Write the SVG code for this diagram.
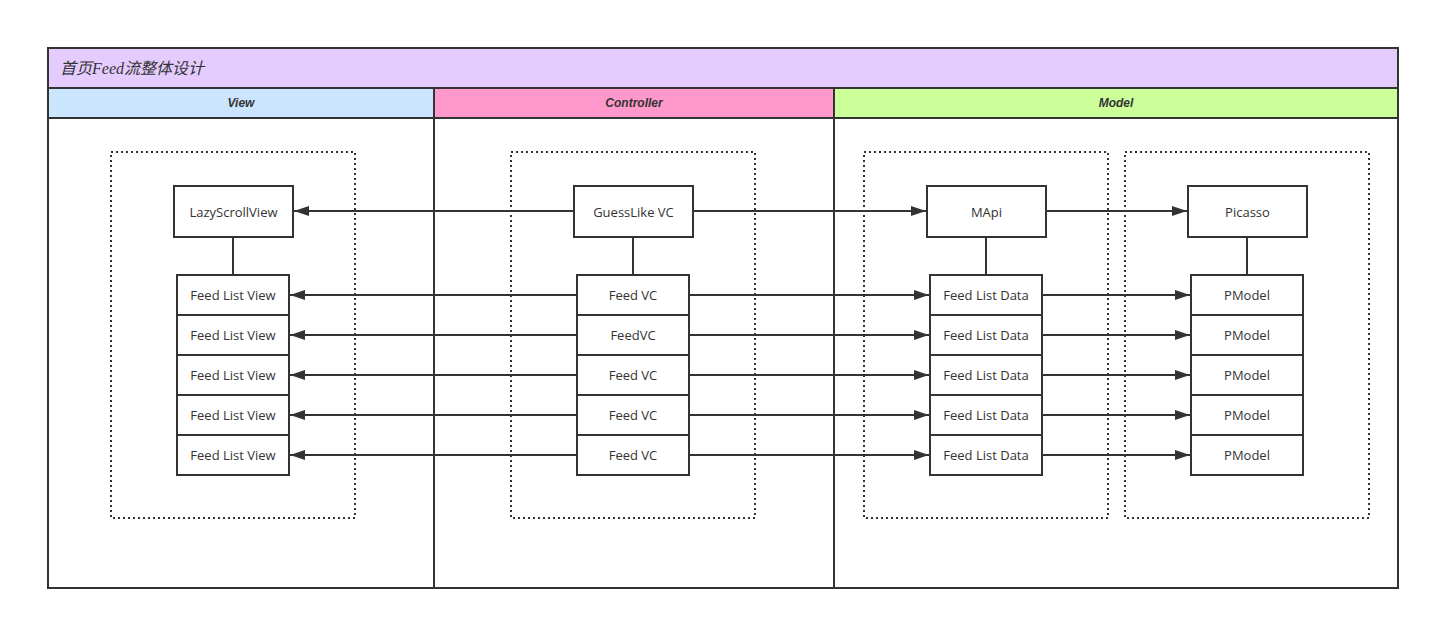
<svg xmlns="http://www.w3.org/2000/svg" width="1430" height="620" viewBox="0 0 1430 620">
<defs>
<marker id="arr" markerUnits="userSpaceOnUse" markerWidth="16" markerHeight="12" refX="15" refY="5" orient="auto"><path d="M0,0 L15,5 L0,10 Z" fill="#333"/></marker>
<style>
.frame{fill:none;stroke:#333;stroke-width:2}
.box{fill:#fff;stroke:#333;stroke-width:2}
.dot{fill:none;stroke:#333;stroke-width:2;stroke-dasharray:2 3}
.lbl{font-family:"Open Sans","Noto Sans","DejaVu Sans",sans-serif;font-size:13px;fill:#333;text-anchor:middle;dominant-baseline:central}
.lane{font-family:"Liberation Sans",Arial,sans-serif;font-size:12px;font-weight:bold;font-style:italic;fill:#333;text-anchor:middle;dominant-baseline:central}
.title{font-family:"Liberation Serif","Noto Sans CJK SC",serif;font-size:16px;font-style:italic;fill:#333;dominant-baseline:central}
.edge{fill:none;stroke:#333;stroke-width:2;marker-end:url(#arr)}
.link{fill:none;stroke:#333;stroke-width:2}
</style>
</defs>
<rect width="1430" height="620" fill="#fff"/>
<g id="pool">
<rect x="48" y="48" width="1350" height="40" fill="#E5CCFF"/>
<rect x="48" y="88" width="386" height="30" fill="#CCE5FF"/>
<rect x="434" y="88" width="400" height="30" fill="#FF99CC"/>
<rect x="834" y="88" width="564" height="30" fill="#CCFF99"/>
<rect class="frame" x="48" y="48" width="1350" height="540"/>
<line class="frame" x1="48" y1="88" x2="1398" y2="88"/>
<line class="frame" x1="48" y1="118" x2="1398" y2="118"/>
<line class="frame" x1="434" y1="88" x2="434" y2="588"/>
<line class="frame" x1="834" y1="88" x2="834" y2="588"/>
<text class="title" x="60" y="68">首页Feed流整体设计</text>
<text class="lane" x="241" y="103">View</text>
<text class="lane" x="634" y="103">Controller</text>
<text class="lane" x="1116" y="103">Model</text>
</g>
<g id="groups">
<rect class="dot" x="111" y="152" width="244" height="366"/>
<rect class="dot" x="511" y="152" width="244" height="366"/>
<rect class="dot" x="864" y="152" width="244" height="366"/>
<rect class="dot" x="1125" y="152" width="244" height="366"/>
</g>
<g id="connectors">
<line class="link" x1="233" y1="237" x2="233" y2="275"/>
<line class="link" x1="633" y1="237" x2="633" y2="275"/>
<line class="link" x1="986" y1="237" x2="986" y2="275"/>
<line class="link" x1="1247" y1="237" x2="1247" y2="275"/>
<line class="edge" x1="574" y1="211" x2="294" y2="211"/>
<line class="edge" x1="693" y1="211" x2="926" y2="211"/>
<line class="edge" x1="1046" y1="211" x2="1187" y2="211"/>
<line class="edge" x1="577" y1="295" x2="290" y2="295"/>
<line class="edge" x1="689" y1="295" x2="929" y2="295"/>
<line class="edge" x1="1042" y1="295" x2="1190" y2="295"/>
<line class="edge" x1="577" y1="335" x2="290" y2="335"/>
<line class="edge" x1="689" y1="335" x2="929" y2="335"/>
<line class="edge" x1="1042" y1="335" x2="1190" y2="335"/>
<line class="edge" x1="577" y1="375" x2="290" y2="375"/>
<line class="edge" x1="689" y1="375" x2="929" y2="375"/>
<line class="edge" x1="1042" y1="375" x2="1190" y2="375"/>
<line class="edge" x1="577" y1="415" x2="290" y2="415"/>
<line class="edge" x1="689" y1="415" x2="929" y2="415"/>
<line class="edge" x1="1042" y1="415" x2="1190" y2="415"/>
<line class="edge" x1="577" y1="455" x2="290" y2="455"/>
<line class="edge" x1="689" y1="455" x2="929" y2="455"/>
<line class="edge" x1="1042" y1="455" x2="1190" y2="455"/>
</g>
<g id="lazyScrollView"><rect class="box" x="174" y="186" width="119" height="51"/><text class="lbl" x="233.5" y="211.5">LazyScrollView</text></g>
<g id="guessLikeVC"><rect class="box" x="574" y="186" width="119" height="51"/><text class="lbl" x="633.5" y="211.5">GuessLike VC</text></g>
<g id="mapi"><rect class="box" x="927" y="186" width="119" height="51"/><text class="lbl" x="986.5" y="211.5">MApi</text></g>
<g id="picasso"><rect class="box" x="1188" y="186" width="119" height="51"/><text class="lbl" x="1247.5" y="211.5">Picasso</text></g>
<g id="view1"><rect class="box" x="177" y="275" width="112" height="40"/><text class="lbl" x="233" y="295">Feed List View</text></g>
<g id="view2"><rect class="box" x="177" y="315" width="112" height="40"/><text class="lbl" x="233" y="335">Feed List View</text></g>
<g id="view3"><rect class="box" x="177" y="355" width="112" height="40"/><text class="lbl" x="233" y="375">Feed List View</text></g>
<g id="view4"><rect class="box" x="177" y="395" width="112" height="40"/><text class="lbl" x="233" y="415">Feed List View</text></g>
<g id="view5"><rect class="box" x="177" y="435" width="112" height="40"/><text class="lbl" x="233" y="455">Feed List View</text></g>
<g id="vc1"><rect class="box" x="577" y="275" width="112" height="40"/><text class="lbl" x="633" y="295">Feed VC</text></g>
<g id="vc2"><rect class="box" x="577" y="315" width="112" height="40"/><text class="lbl" x="633" y="335">FeedVC</text></g>
<g id="vc3"><rect class="box" x="577" y="355" width="112" height="40"/><text class="lbl" x="633" y="375">Feed VC</text></g>
<g id="vc4"><rect class="box" x="577" y="395" width="112" height="40"/><text class="lbl" x="633" y="415">Feed VC</text></g>
<g id="vc5"><rect class="box" x="577" y="435" width="112" height="40"/><text class="lbl" x="633" y="455">Feed VC</text></g>
<g id="data1"><rect class="box" x="930" y="275" width="112" height="40"/><text class="lbl" x="986" y="295">Feed List Data</text></g>
<g id="data2"><rect class="box" x="930" y="315" width="112" height="40"/><text class="lbl" x="986" y="335">Feed List Data</text></g>
<g id="data3"><rect class="box" x="930" y="355" width="112" height="40"/><text class="lbl" x="986" y="375">Feed List Data</text></g>
<g id="data4"><rect class="box" x="930" y="395" width="112" height="40"/><text class="lbl" x="986" y="415">Feed List Data</text></g>
<g id="data5"><rect class="box" x="930" y="435" width="112" height="40"/><text class="lbl" x="986" y="455">Feed List Data</text></g>
<g id="pmodel1"><rect class="box" x="1191" y="275" width="112" height="40"/><text class="lbl" x="1247" y="295">PModel</text></g>
<g id="pmodel2"><rect class="box" x="1191" y="315" width="112" height="40"/><text class="lbl" x="1247" y="335">PModel</text></g>
<g id="pmodel3"><rect class="box" x="1191" y="355" width="112" height="40"/><text class="lbl" x="1247" y="375">PModel</text></g>
<g id="pmodel4"><rect class="box" x="1191" y="395" width="112" height="40"/><text class="lbl" x="1247" y="415">PModel</text></g>
<g id="pmodel5"><rect class="box" x="1191" y="435" width="112" height="40"/><text class="lbl" x="1247" y="455">PModel</text></g>
</svg>
